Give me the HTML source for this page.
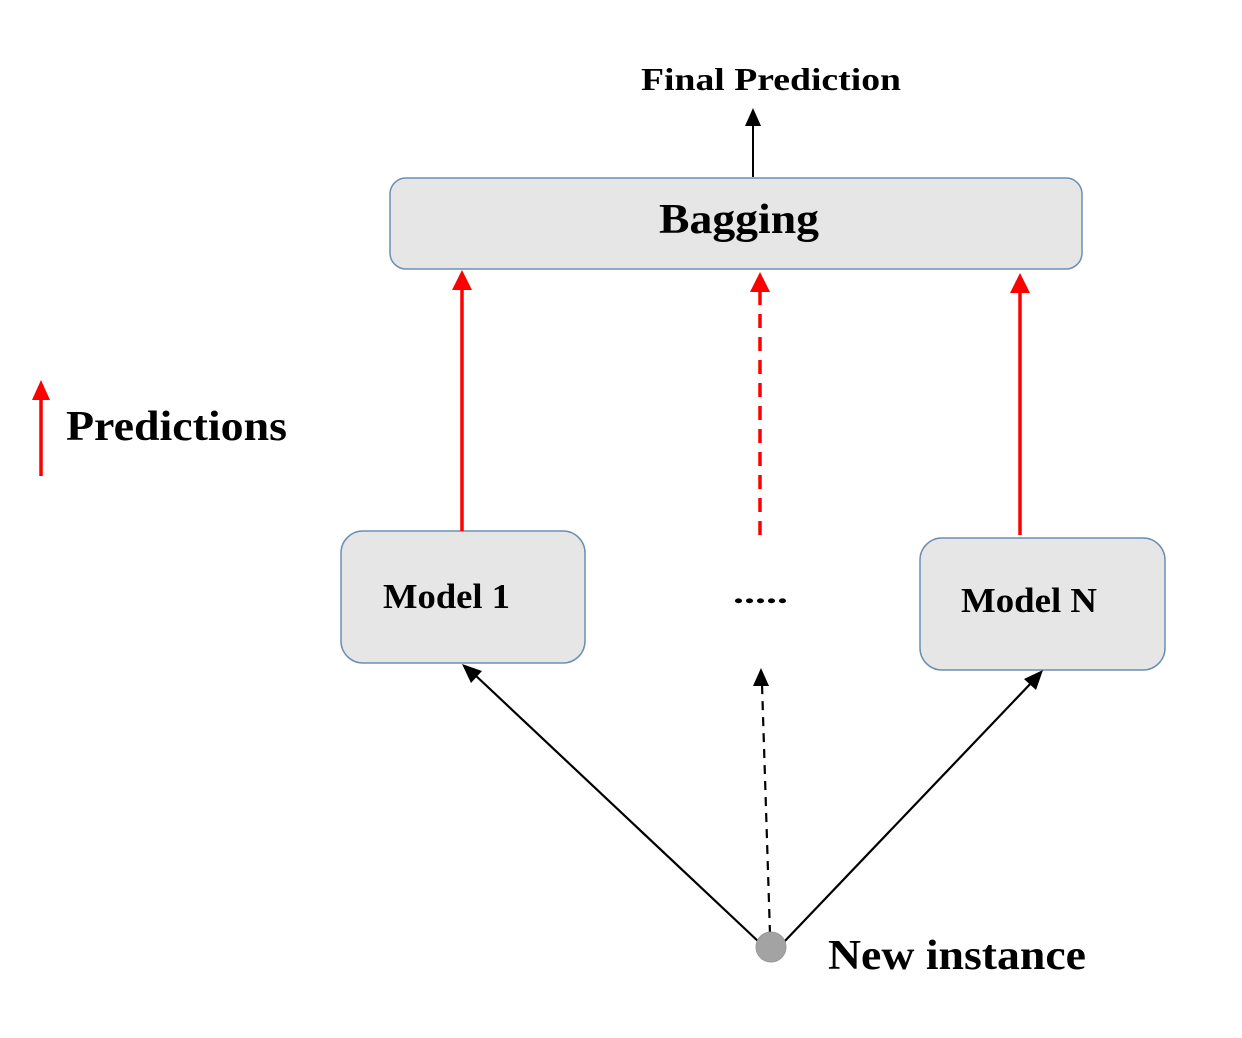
<!DOCTYPE html>
<html><head><meta charset="utf-8"><style>html,body{margin:0;padding:0;background:#fff}svg{display:block}</style></head>
<body>
<svg width="1242" height="1038" viewBox="0 0 1242 1038" xmlns="http://www.w3.org/2000/svg" font-family="Liberation Serif, serif" font-weight="bold">
<defs>
<marker id="rh" markerWidth="10" markerHeight="10" refX="5" refY="9" orient="auto-start-reverse" markerUnits="userSpaceOnUse" viewBox="0 0 10 10"><path d="M0,10 L5,0 L10,10 Z" fill="#ff0000"/></marker>
</defs>
<rect x="390" y="178" width="692" height="91" rx="16" fill="#e7e6e7" stroke="#6a8fb5" stroke-width="1.5"/>
<rect x="341" y="531" width="244" height="132" rx="22" fill="#e7e6e7" stroke="#6a8fb5" stroke-width="1.5"/>
<rect x="920" y="538" width="245" height="132" rx="22" fill="#e7e6e7" stroke="#6a8fb5" stroke-width="1.5"/>
<!-- final arrow -->
<line x1="753" y1="177" x2="753" y2="124" stroke="#000" stroke-width="2"/>
<path d="M745,126 L753,108 L761,126 Z" fill="#000"/>
<!-- red arrows -->
<line x1="462" y1="531" x2="462" y2="288" stroke="#ff0000" stroke-width="3.5"/>
<path d="M452,290 L462,270 L472,290 Z" fill="#ff0000"/>
<line x1="760" y1="535" x2="760" y2="290" stroke="#ff0000" stroke-width="3.5" stroke-dasharray="14,9"/>
<path d="M750,292 L760,272 L770,292 Z" fill="#ff0000"/>
<line x1="1020" y1="535" x2="1020" y2="291" stroke="#ff0000" stroke-width="3.5"/>
<path d="M1010,293 L1020,273 L1030,293 Z" fill="#ff0000"/>
<!-- legend -->
<line x1="41" y1="476" x2="41" y2="396" stroke="#ff0000" stroke-width="3.5"/>
<path d="M32,400 L41,380 L50,400 Z" fill="#ff0000"/>
<!-- black lines from new instance -->
<line x1="760" y1="943" x2="474" y2="674" stroke="#000" stroke-width="2.2"/>
<path d="M462,664 L482,671 L471,683 Z" fill="#000"/>
<line x1="783" y1="943" x2="1034" y2="680" stroke="#000" stroke-width="2.2"/>
<path d="M1043,670 L1036,690 L1024,679 Z" fill="#000"/>
<line x1="770" y1="934" x2="762" y2="684" stroke="#000" stroke-width="2.2" stroke-dasharray="9,7"/>
<path d="M753,686 L761,668 L769,686 Z" fill="#000"/>
<circle cx="771" cy="947" r="15" fill="#a3a3a3" stroke="#999" stroke-width="1"/>
<!-- text -->
<text x="641" y="90" font-size="32" textLength="260" lengthAdjust="spacingAndGlyphs">Final Prediction</text>
<text x="659" y="233" font-size="42" textLength="160" lengthAdjust="spacingAndGlyphs">Bagging</text>
<text x="66" y="440" font-size="42" textLength="221" lengthAdjust="spacingAndGlyphs">Predictions</text>
<text x="383" y="608" font-size="35" textLength="127" lengthAdjust="spacingAndGlyphs">Model 1</text>
<text x="961" y="612" font-size="35" textLength="136" lengthAdjust="spacingAndGlyphs">Model N</text>
<text x="733" y="603" font-size="30" textLength="55" lengthAdjust="spacingAndGlyphs">.....</text>
<text x="828" y="969" font-size="42" textLength="258" lengthAdjust="spacingAndGlyphs">New instance</text>
</svg>
</body></html>
